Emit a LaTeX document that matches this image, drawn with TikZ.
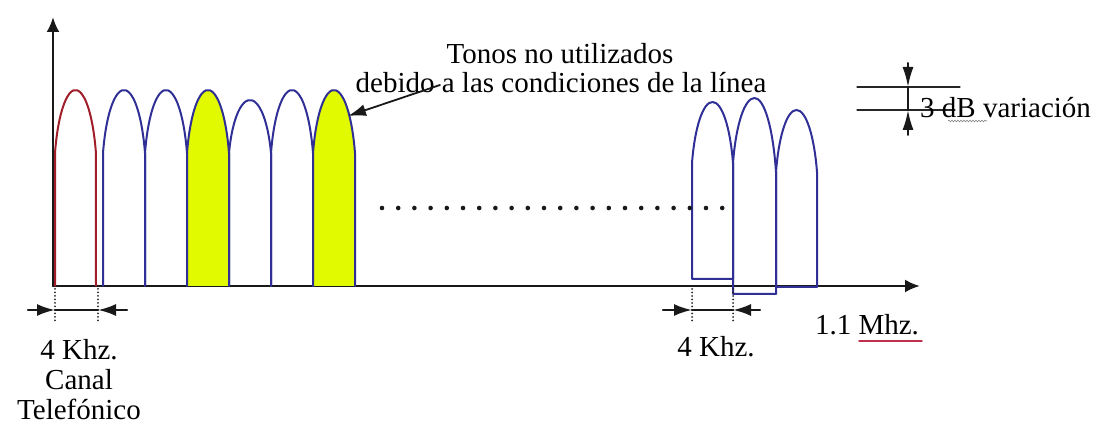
\documentclass[tikz,border=0pt]{standalone}
\usepackage{fontspec}
\setmainfont{Liberation Serif}
\newfontfamily\lblfont{Liberation Serif}
\usepackage{xcolor}
\definecolor{lobeblue}{HTML}{2F2F96}
\definecolor{lobered}{HTML}{A01E2A}
\definecolor{unusedyellow}{HTML}{E2FA00}
\definecolor{spellred}{HTML}{C0304A}
\usepackage{tikz}
\usetikzlibrary{arrows.meta,decorations.pathmorphing}
\tikzset{
  >={Latex[length=15pt,width=13pt]},
  every picture/.style={line cap=round, line join=round},
  lbl/.style={font=\lblfont\fontsize{29}{30}\selectfont, text=black, inner sep=0pt},
  axisline/.style={black!90, line width=2.5pt, ->},
  lobeline/.style={lobeblue, line width=2pt},
  dimline/.style={black!90, line width=2.4pt},
  dimarrow/.style={dimline, -{Latex[length=18pt,width=12pt]}},
  dimguide/.style={black!85, line width=2pt, dash pattern=on 0pt off 3.5pt},
  dbline/.style={black!85, line width=1.2pt},
  dbarrow/.style={black!90, line width=2pt, -{Latex[length=20pt,width=11pt]}},
}

\begin{document}
\begin{tikzpicture}[x=1pt, y=-1pt]
\useasboundingbox (0,0) rectangle (1120,430);
% axes
\draw[axisline] (53,286) -- (53,17);
\draw[axisline] (53,286) -- (920,286);
% telephone channel
\draw[lobeline, lobered] (55,286) -- (55,153) arc[start angle=197.75, end angle=342.25, x radius=21.5, y radius={1.439*63}] -- (96,286);
% first tones, yellow = not used
\foreach \xa/\xb/\yp/\fc in {103/145/90/none, 145/187/90/none, 187/229/90/unusedyellow,
    229/271/100/none, 271/313/90/none, 313/355/90/unusedyellow}
  \draw[lobeline, fill=\fc] (\xa,286) -- (\xa,153) arc[start angle=197.75, end angle=342.25, x radius={1.05*(\xb-\xa)/2}, y radius={1.439*(153-\yp)}] -- (\xb,286);
% last tones
\foreach \xa/\xb/\yb/\yl/\yr/\yp in {692/733/279/163/163/102, 733/776/294/163/172/98, 776/817/287/172/172/110}
  \draw[lobeline] (\xa,\yb) -- (\xa,\yl)
    arc[start angle=197.75, end angle=270, x radius={1.05*(\xb-\xa)/2}, y radius={1.439*(\yl-\yp)}]
    arc[start angle=270, end angle=342.25, x radius={1.05*(\xb-\xa)/2}, y radius={1.439*(\yr-\yp)}] -- (\xb,\yb) -- cycle;
% dots
\foreach \k in {0,...,21} \fill[black!90] (382+16.2*\k,208) circle (2.3pt);
% unused tones label
\node[lbl, anchor=base] (tonos) at (560,64) {Tonos no utilizados};
\node[lbl, anchor=base] (debido) at (561,93) {debido a las condiciones de la línea};
\coordinate (tonoarrow) at (440,85);
\coordinate (tonosix) at (348,116);
\draw[dimline, line width=1.8pt, -{Latex[length=18pt,width=12pt]}] (tonoarrow) -- (tonosix);
% 3 dB variation
\draw[dbline] (857,87) -- (960,87);
\draw[dbline] (857,110) -- (955,110);
\draw[black!90, line width=2pt] (908,87) -- (908,110);
\draw[dbarrow] (908,63) -- (908,87);
\draw[dbarrow] (908,135) -- (908,110);
\node[lbl, anchor=base west] (variacion) at (920,118) {3 dB variación};
\draw[black!50, line width=0.6pt, decorate, decoration={snake, amplitude=0.8pt, segment length=3pt}] (948,121) -- (987,121);
% channel width, left
\draw[dimguide] (55,289) -- (55,322);
\draw[dimguide] (98,289) -- (98,322);
\draw[dimarrow] (28,310) -- (55,310);
\draw[dimline] (55,310) -- (98,310);
\draw[dimarrow] (127,310) -- (98,310);
\node[lbl, anchor=base, align=center] (khzleft) at (79,420) {4 Khz.\\Canal\\Telefónico};
% channel width, right
\draw[dimguide] (692,289) -- (692,322);
\draw[dimguide] (733,289) -- (733,322);
\draw[dimarrow] (663,310) -- (692,310);
\draw[dimline] (692,310) -- (733,310);
\draw[dimarrow] (760,310) -- (733,310);
\node[lbl, anchor=base] (khzright) at (716,357) {4 Khz.};
\node[lbl, anchor=base] (mhz) at (867,335) {1.1 Mhz.};
\draw[spellred, line width=1.4pt] (859,341) -- (922,341);
\end{tikzpicture}
\end{document}
